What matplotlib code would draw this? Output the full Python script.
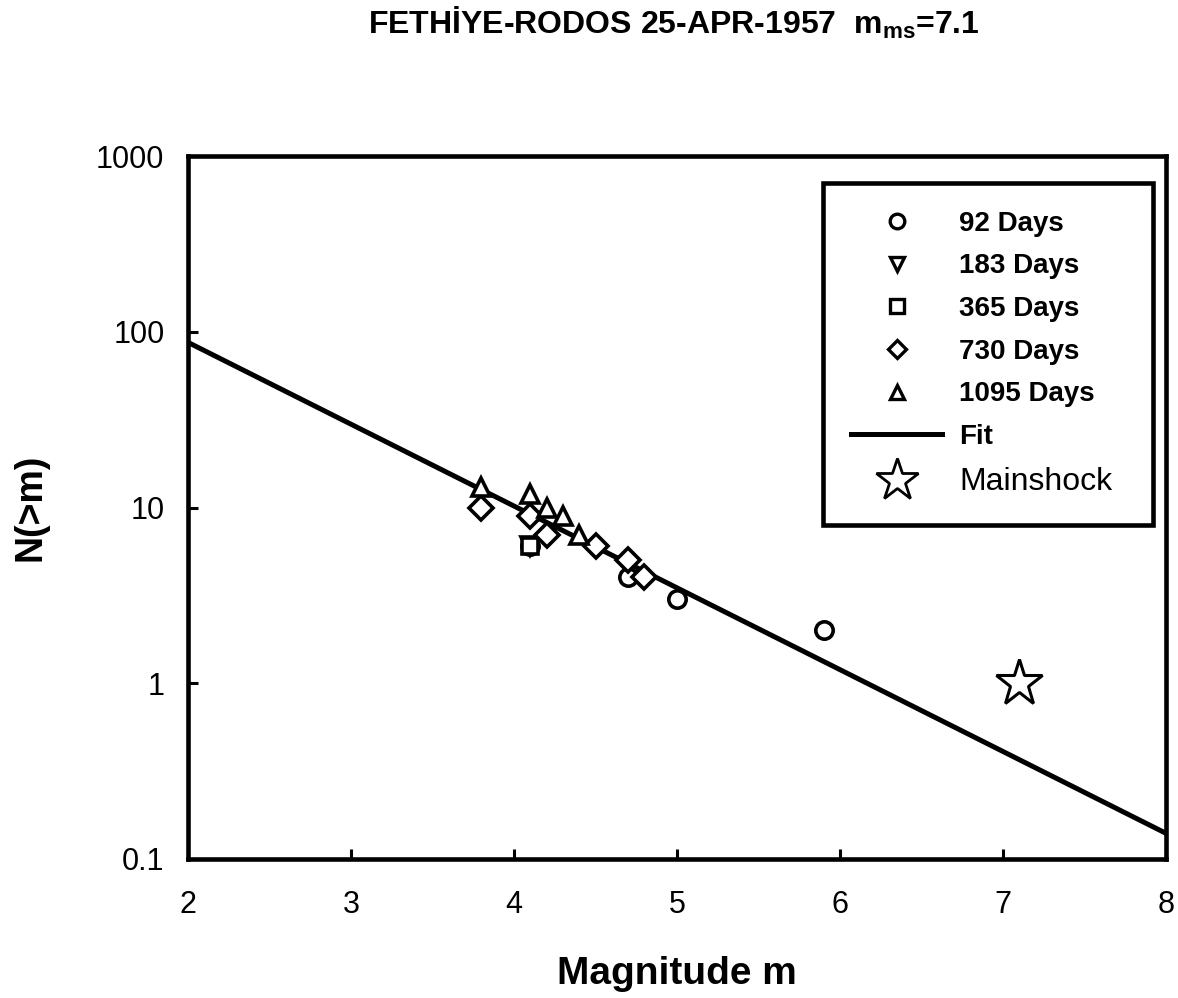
import matplotlib
matplotlib.use("Agg")
import matplotlib.pyplot as plt
from matplotlib.lines import Line2D
from matplotlib.ticker import FixedLocator, FixedFormatter, NullLocator

plt.rcParams['font.family'] = ['Liberation Sans', 'DejaVu Sans']
plt.rcParams['mathtext.fontset'] = 'custom'
plt.rcParams['mathtext.rm'] = 'Liberation Sans'
plt.rcParams['mathtext.bf'] = 'Liberation Sans:bold'

# data
d92_m = [4.1, 4.7, 5.0, 5.9]
d92_n = [6, 4, 3, 2]
d183_m = [4.1]
d183_n = [6]
d365_m = [4.1]
d365_n = [6]
d730_m = [3.8, 4.1, 4.2, 4.5, 4.7, 4.8]
d730_n = [10, 9, 7, 6, 5, 4]
d1095_m = [3.8, 4.1, 4.2, 4.3, 4.4]
d1095_n = [13, 12, 10, 9, 7]
fit_m = [2, 8]
fit_n = [87, 0.14]
main_m = [7.1]
main_n = [1]

y_ticks = [0.1, 1, 10, 100, 1000]
y_labels = ['0.1', '1', '10', '100', '1000']
x_ticks = [2, 3, 4, 5, 6, 7, 8]

W, H = 1178, 998
fig = plt.figure(figsize=(W / 100, H / 100), dpi=100)
ax = fig.add_axes([188 / W, 1 - 859 / H, (1166 - 188) / W, (859 - 156) / H])

mk = dict(ls='none', mfc='white', mec='black', mew=2.6)
ax.plot(fit_m, fit_n, color='black', lw=3.6, solid_capstyle='butt')
ax.plot(d92_m, d92_n, marker='o', ms=12.5, **mk)
ax.plot(d183_m, d183_n, marker='v', ms=13, **mk)
ax.plot(d365_m, d365_n, marker='s', ms=11.5, **mk)
ax.plot(d730_m, d730_n, marker='D', ms=12, **mk)
ax.plot(d1095_m, d1095_n, marker='^', ms=13.5, **mk)
ax.plot(main_m, main_n, ls='none', marker='*', ms=35, mfc='white', mec='black', mew=2.2)

ax.set_yscale('log')
ax.set_xlim(2, 8)
ax.set_ylim(0.1, 1000)
ax.yaxis.set_major_locator(FixedLocator(y_ticks))
ax.yaxis.set_major_formatter(FixedFormatter(y_labels))
ax.yaxis.set_minor_locator(NullLocator())
ax.set_xticks(x_ticks)
ax.tick_params(direction='in', length=7, width=2.2, labelsize=22)
ax.tick_params(axis='x', pad=22)
ax.tick_params(axis='y', pad=17)
for s in ax.spines.values():
    s.set_linewidth(3.3)

ax.set_xlabel('Magnitude m', fontsize=28, fontweight='bold', labelpad=26)
ax.set_ylabel('N(>m)', fontsize=27, fontweight='bold', labelpad=34)

fig.text(674 / W, 1 - 34 / H, r'FETHİYE-RODOS 25-APR-1957  m$_\mathbf{ms}$=7.1',
         ha='center', va='baseline', fontsize=23, fontweight='bold')

lk = dict(ls='none', mfc='white', mec='black', mew=2.4)
handles = [
    Line2D([], [], marker='o', ms=10.5, **lk),
    Line2D([], [], marker='v', ms=10.5, **lk),
    Line2D([], [], marker='s', ms=9.5, **lk),
    Line2D([], [], marker='D', ms=9.5, **lk),
    Line2D([], [], marker='^', ms=10.5, **lk),
    Line2D([], [], color='black', lw=3.6),
    Line2D([], [], marker='*', ms=32, ls='none', mfc='white', mec='black', mew=2.0),
]
labels = ['92 Days', '183 Days', '365 Days', '730 Days', '1095 Days', 'Fit', 'Mainshock']
leg = ax.legend(handles, labels, loc='upper left',
                bbox_to_anchor=(823 / W, 1 - 183 / H, (1153 - 823) / W, 0),
                bbox_transform=fig.transFigure, mode='expand', borderaxespad=0,
                fontsize=20, handlelength=3.3, handletextpad=0.6,
                labelspacing=0.6, borderpad=1.0, fancybox=False, framealpha=1)
leg.get_frame().set_edgecolor('black')
leg.get_frame().set_linewidth(3.3)
for i, t in enumerate(leg.get_texts()):
    if i < 6:
        t.set_fontweight('bold')
    else:
        t.set_fontsize(23)

fig.savefig('out.png', dpi=100)
